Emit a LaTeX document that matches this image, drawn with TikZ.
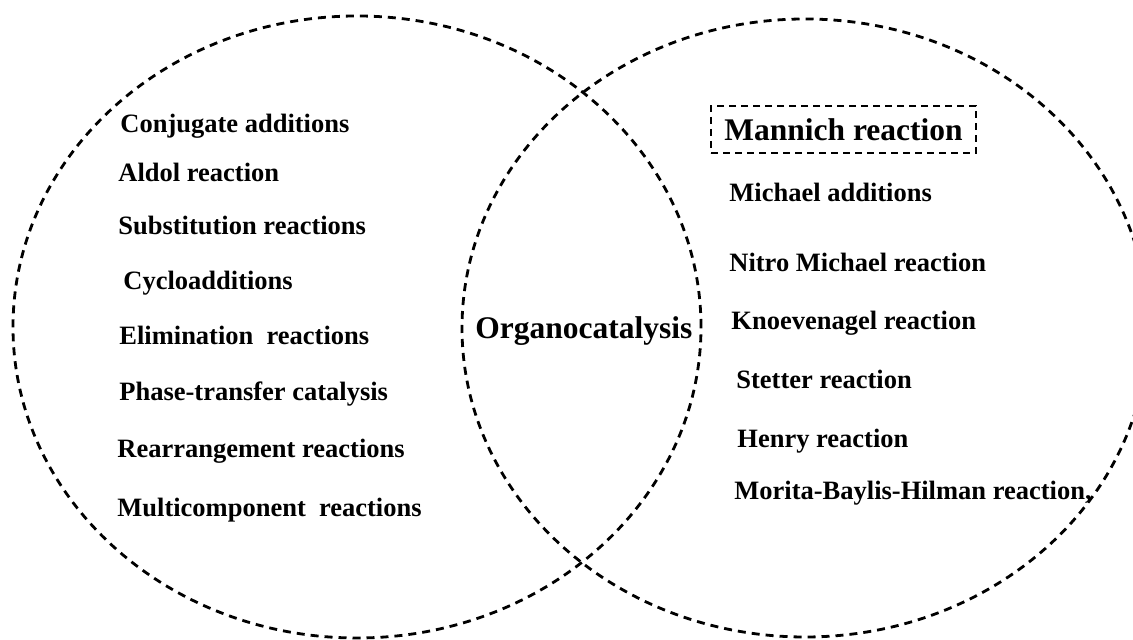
\documentclass[tikz,border=0pt]{standalone}
\usepackage{fontspec}
\setmainfont{Liberation Serif}
\definecolor{VennLine}{RGB}{0,0,0}

\begin{document}
\begin{tikzpicture}[x=0.5pt,y=0.5pt,
  vennline/.style={VennLine,line width=1.4pt,dash pattern=on 4pt off 3pt},
  reaction/.style={anchor=base west,inner sep=0pt,font=\bfseries\fontsize{13.25}{16}\selectfont},
  bigreaction/.style={font=\bfseries\fontsize{15.75}{18}\selectfont}]
  % Coordinates are pixels of the 1133x640 frame, y counted from the bottom.
  \newcommand{\reactionlabel}[4]{%
    \node[reaction] (#1) at (#2,#3) {#4};
  }
  \clip (0,0) rectangle (1133,640);

  \draw[vennline] (357,313) ellipse[x radius=344,y radius=311];
  \draw[vennline] (805,312) ellipse[x radius=343,y radius=309];

  \reactionlabel{conj}{120}{507}{Conjugate additions}
  \reactionlabel{aldol}{118}{458}{Aldol reaction}
  \reactionlabel{subst}{118}{405}{Substitution reactions}
  \reactionlabel{cyclo}{123}{350}{Cycloadditions}
  \reactionlabel{elim}{119}{295}{Elimination~~reactions}
  \reactionlabel{ptc}{119}{239}{Phase-transfer catalysis}
  \reactionlabel{rearr}{117}{182}{Rearrangement reactions}
  \reactionlabel{multi}{117}{123}{Multicomponent~~reactions}

  \node[bigreaction,anchor=base west,inner sep=0pt] (organo) at (475,301) {Organocatalysis};

  \node[bigreaction,draw,line width=1.1pt,dash pattern=on 3.5pt off 2.5pt,
    minimum width=132.5pt,minimum height=23.5pt,inner sep=0pt] (mannich) at (843.5,510.5)
    {Mannich reaction};
  \reactionlabel{michael}{729}{438}{Michael additions}
  \reactionlabel{nitro}{729}{368}{Nitro Michael reaction}
  \reactionlabel{knoev}{731}{310}{Knoevenagel reaction}
  \reactionlabel{stetter}{736}{251}{Stetter reaction}
  \reactionlabel{henry}{737}{192}{Henry reaction}
  \reactionlabel{mbh}{734}{140}{Morita-Baylis-Hilman reaction,}
\end{tikzpicture}
\end{document}
